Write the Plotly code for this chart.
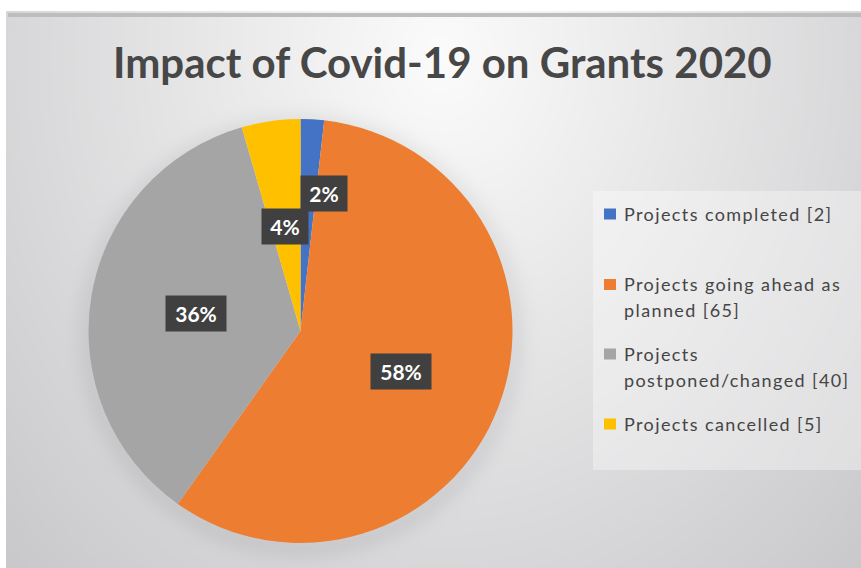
import numpy as np
import plotly.graph_objects as go

# ---- data ----
categories = ["Projects completed", "Projects going ahead as planned",
              "Projects postponed/changed", "Projects cancelled"]
# legend wording, broken into the lines it is set in
legend_lines = [["Projects completed [2]"],
                ["Projects going ahead as", "planned [65]"],
                ["Projects", "postponed/changed [40]"],
                ["Projects cancelled [5]"]]
counts = [2, 65, 40, 5]
colors = ["#4472C4", "#ED7D31", "#A5A5A5", "#FFC000"]

W, H = 861, 568
FONT = "Lato"

# pie geometry in pixels
CX, CY, R = 300.5, 331.0, 212.0

# ---- background: soft radial gradient with a glow around the pie ----
gx = np.linspace(8, W, 216)
gy = np.linspace(13, H, 140)
XX, YY = np.meshgrid(gx, gy)
base = np.sqrt(((XX - 440) / 470) ** 2 + ((YY - 55) / 560) ** 2)
base = np.clip(base, 0, 1.3) / 1.3
d = np.sqrt((XX - CX) ** 2 + (YY - CY - 4) ** 2)
glow = 0.25 * np.exp(-((d - R) / 14.0) ** 2) * (d > R - 10)
zbg = np.clip(base + glow, 0, 1.2)

fig = go.Figure()
fig.add_trace(go.Heatmap(
    x=gx, y=gy, z=zbg, zmin=0, zmax=1.2, zsmooth="best",
    colorscale=[[0, "rgb(251,251,251)"], [1, "rgb(190,190,193)"]],
    showscale=False, hoverinfo="skip",
))

fig.add_trace(go.Pie(
    labels=categories, values=counts, sort=False, direction="clockwise",
    rotation=0, marker=dict(colors=colors, line=dict(width=0)),
    textinfo="none", hoverinfo="label+value+percent", showlegend=False,
    domain=dict(x=[(CX - R) / W, (CX + R) / W], y=[1 - (CY + R) / H, 1 - (CY - R) / H]),
))

# ---- percentage labels on dark boxes ----
total = sum(counts)
label_r = [0.66, 0.51, 0.50, 0.50]
label_shift = [6.4, 1.0, 0.0, -0.4]
annotations = []
shapes = []
start = 0.0
for i, v in enumerate(counts):
    span = v / total * 360.0
    theta = np.radians(start + span / 2 + label_shift[i])
    start += span
    lx = CX + label_r[i] * R * np.sin(theta)
    ly = CY - label_r[i] * R * np.cos(theta)
    txt = f"{round(v / total * 100)}%"
    annotations.append(dict(
        x=lx, y=ly, xref="x", yref="y", text=f"<b>{txt}</b>", showarrow=False,
        font=dict(family=FONT, size=21, color="white"),
        bgcolor="#404040", width=14 * len(txt) + 18, height=35, borderpad=0,
    ))

# ---- title ----
annotations.append(dict(
    x=442, y=62, xref="x", yref="y", text="<b>Impact of Covid-19 on Grants 2020</b>",
    showarrow=False, font=dict(family=FONT, size=42, color="#474747"),
))

# ---- legend panel ----
shapes.append(dict(type="rect", xref="x", yref="y", x0=593, x1=W, y0=191, y1=470,
                   fillcolor="rgba(255,255,255,0.35)", line=dict(width=0), layer="above"))
legend_top = [213.5, 284.0, 353.5, 423.5]
LINE = 26
for i, lines in enumerate(legend_lines):
    y0 = legend_top[i]
    shapes.append(dict(type="rect", xref="x", yref="y", x0=604, x1=616,
                       y0=y0 - 5, y1=y0 + 6, fillcolor=colors[i],
                       line=dict(width=0), layer="above"))
    for k, line in enumerate(lines):
        annotations.append(dict(
            x=622, y=y0 + k * LINE, xref="x", yref="y", xanchor="left", yanchor="middle",
            text=f'<span style="letter-spacing:1.4px">{line}</span>', showarrow=False,
            font=dict(family=FONT, size=18, color="#454545"),
        ))

# top border of chart area
shapes.append(dict(type="rect", xref="x", yref="y", x0=8, x1=W, y0=13, y1=17,
                   fillcolor="#bdbdc0", line=dict(width=0), layer="above"))

fig.update_layout(
    width=W, height=H, margin=dict(l=0, r=0, t=0, b=0),
    paper_bgcolor="white", plot_bgcolor="white",
    xaxis=dict(range=[0, W], domain=[0, 1], visible=False, fixedrange=True),
    yaxis=dict(range=[H, 0], domain=[0, 1], visible=False, fixedrange=True),
    showlegend=False,
    annotations=annotations, shapes=shapes,
)

fig.write_html("out.html")
